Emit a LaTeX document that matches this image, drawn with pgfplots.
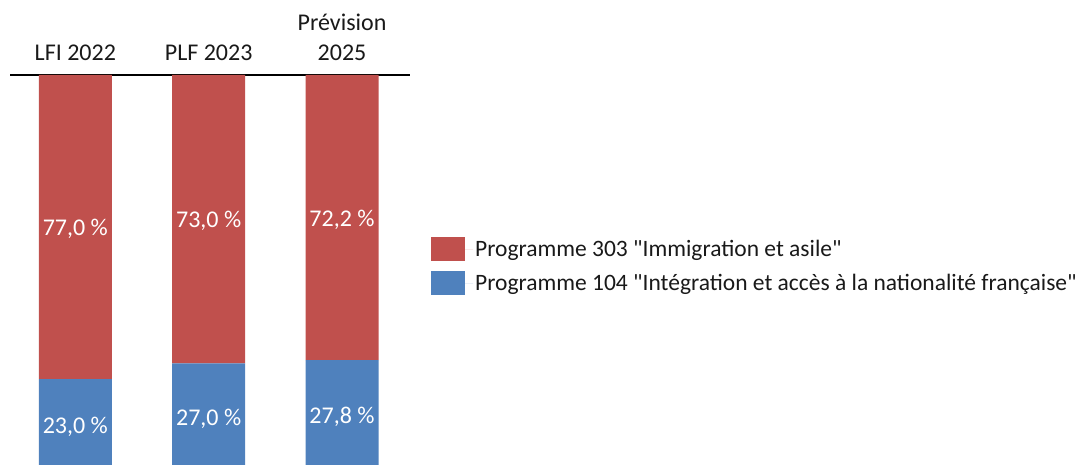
\documentclass[border=0pt]{standalone}
\usepackage{fontspec}
\setmainfont{Carlito}
\usepackage{pgfplots}
\usepackage{pgfplotstable}
\pgfplotsset{compat=1.18}
\definecolor{red303}{HTML}{C0504D}
\definecolor{blue104}{HTML}{4F81BD}
\newcommand\chartfont{\fontsize{24}{30}\selectfont}

% share of each programme, in percent
\pgfplotstableread{
x blue red
0 23.0 77.0
1 27.0 73.0
2 27.8 72.2
}\shares

\pgfplotsset{
  frame/.style={at={(10pt,-6pt)}, anchor=south west,
    width=400pt, height=395pt, scale only axis,
    xmin=-0.49, xmax=2.51, ymin=0, ymax=100},
  sq legend/.style={legend image code/.code={\fill[##1,draw=none] (0pt,-12pt) rectangle (34pt,12pt);
    \path (0pt,0pt) -- (42pt,0pt);}},
}

\begin{document}
\begin{tikzpicture}
\path[use as bounding box, clip] (0,0) rectangle (1081pt,464pt);
\begin{axis}[frame,
  ybar stacked, bar width=73pt,
  axis x line=top, axis y line=none,
  axis line style={-, black, line width=1.2pt},
  xtick={0,1,2},
  xticklabels={LFI 2022, PLF 2023, {Prévision\\2025}},
  xticklabel style={align=center, font=\chartfont, text=black!90, yshift=11pt},
  major tick length=0pt,
  reverse legend,
  legend style={at={(1.045,0.516)}, anchor=west, draw=none, fill=none,
    font=\fontsize{23.5}{28}\selectfont, text=black!90, row sep=10pt, cells={anchor=west}},
]
\addplot[fill=blue104, draw=none, sq legend] table[x=x, y=blue] {\shares};
\addplot[fill=red303, draw=none, sq legend] table[x=x, y=red] {\shares};
\legend{Programme 104 \textquotedbl Intégration et accès à la nationalité française\textquotedbl,
        Programme 303 \textquotedbl Immigration et asile\textquotedbl}
\end{axis}
% value labels, centred in each segment
\begin{axis}[frame, hide axis,
  nodes near coords={\pgfmathprintnumber[fixed, fixed zerofill, precision=1, use comma, assume math mode=true]{\pgfplotspointmeta}~\%},
  every node near coord/.style={anchor=center, text=white, font=\chartfont, yshift=-2pt},
]
\addplot[only marks, mark=none, point meta=\thisrow{blue}] table[x=x, y expr=\thisrow{blue}/2] {\shares};
\addplot[only marks, mark=none, point meta=\thisrow{red}] table[x=x, y expr=\thisrow{blue}+\thisrow{red}/2] {\shares};
\end{axis}
\end{tikzpicture}
\end{document}
